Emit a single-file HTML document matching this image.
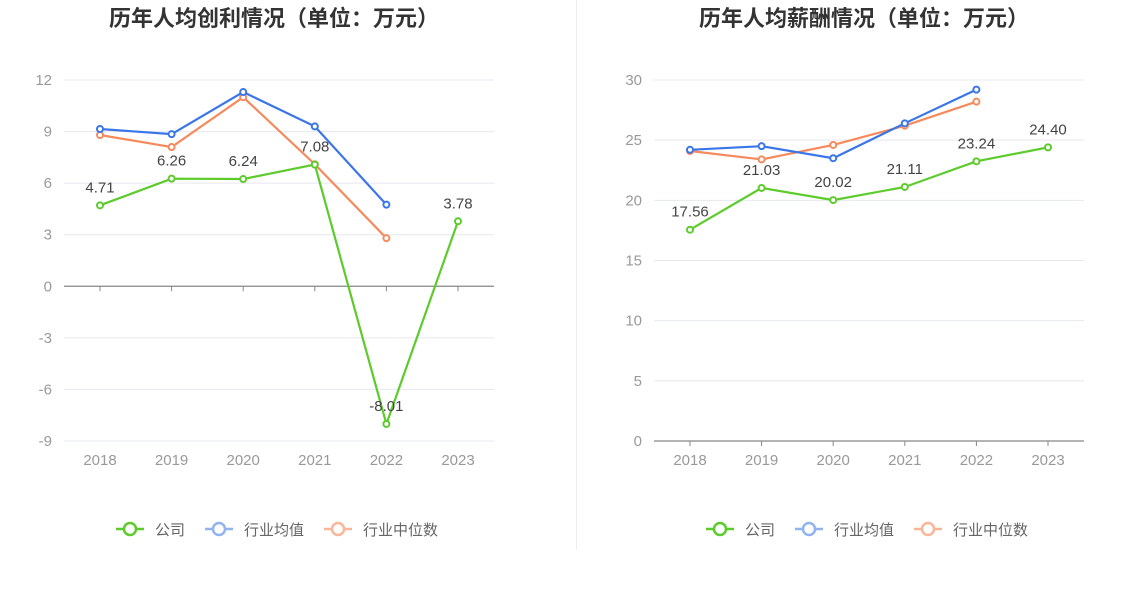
<!DOCTYPE html>
<html><head><meta charset="utf-8">
<style>
html,body{margin:0;padding:0;background:#fff;}
body{width:1148px;height:589px;overflow:hidden;font-family:"Liberation Sans","Noto Sans CJK SC",sans-serif;}
svg text{font-family:"Liberation Sans","Noto Sans CJK SC",sans-serif;}
</style></head>
<body>
<svg id="chart" width="1148" height="589"></svg>
<script>
const years = ["2018","2019","2020","2021","2022","2023"];
const profitCompany = [4.71, 6.26, 6.24, 7.08, -8.01, 3.78];
const profitAvg = [9.15, 8.85, 11.3, 9.3, 4.75];
const profitMedian = [8.8, 8.1, 11.0, 7.1, 2.8];
const profitTicks = [12, 9, 6, 3, 0, -3, -6, -9];
const salaryCompany = [17.56, 21.03, 20.02, 21.11, 23.24, 24.40];
const salaryAvg = [24.2, 24.5, 23.5, 26.4, 29.2];
const salaryMedian = [24.1, 23.4, 24.6, 26.2, 28.2];
const salaryTicks = [30, 25, 20, 15, 10, 5, 0];

const NS = "http://www.w3.org/2000/svg";
const svg = document.getElementById("chart");
const C_GREEN = "#5ccb2b", C_BLUE = "#3a76e8", C_ORANGE = "#f68a5c";

function mk(tag, attrs, parent){
  const e = document.createElementNS(NS, tag);
  for (const k in attrs) e.setAttribute(k, attrs[k]);
  (parent || svg).appendChild(e);
  return e;
}

const div = mk("line",{x1:576.5,y1:0,x2:576.5,y2:550,stroke:"#eeeeee"});



function drawChart(opt){
  const g = mk("g",{});
  
  
  const yMax = opt.ticks[0], yMin = opt.ticks[opt.ticks.length-1];
  const yS = v => opt.yTop + (yMax - v) / (yMax - yMin) * (opt.yBot - opt.yTop);
  const xS = i => opt.x0 + i * opt.step;

  const t = mk("text",{x:opt.titleX,y:26,"text-anchor":"middle","font-size":"22","font-weight":"bold",fill:"#333"},g);
  t.textContent = opt.title;
  
  

  opt.ticks.forEach(v=>{
    const y = yS(v);
    const gl = mk("line",{x1:opt.axisL,x2:opt.axisR,y1:y,y2:y,stroke:"#e6e8f0"},g);
    
    
    const tl = mk("text",{x:opt.axisL-12,y:y+5,"text-anchor":"end","font-size":"15",fill:"#999"},g);
    tl.textContent = v;
    
    
  });
  const y0 = yS(Math.max(yMin, 0));
  const ax = mk("line",{x1:opt.axisL,x2:opt.axisR,y1:y0,y2:y0,stroke:"#888","stroke-width":1.2},g);
  
  
  years.forEach((yr,i)=>{
    const tk = mk("line",{x1:xS(i),x2:xS(i),y1:y0,y2:y0+5,stroke:"#888"},g);
    
    
    const lb = mk("text",{x:xS(i),y:opt.yBot+24,"text-anchor":"middle","font-size":"15",fill:"#999"},g);
    lb.textContent = yr;
    
    
  });

  function series(vals, color, name, labels){
    const pts = vals.map((v,i)=>xS(i)+","+yS(v)).join(" ");
    const pl = mk("polyline",{points:pts,fill:"none",stroke:color,"stroke-width":2.2},g);
    
    
    vals.forEach((v,i)=>{
      const c = mk("circle",{cx:xS(i),cy:yS(v),r:3,fill:"#fff",stroke:color,"stroke-width":2},g);
      
      
      if (labels){
        const lt = mk("text",{x:xS(i),y:yS(v)-13,"text-anchor":"middle","font-size":"15",fill:"#444"},g);
        lt.textContent = v.toFixed(2);
        
        
      }
    });
  }
  series(opt.median, C_ORANGE, "industry-median", false);
  series(opt.avg, C_BLUE, "industry-average", false);
  series(opt.company, C_GREEN, "company", true);

  const items = [["公司","#5ccb2b"],["行业均值","#93b3f0"],["行业中位数","#f9b79a"]];
  let lx = opt.legendX;
  items.forEach(it=>{
    const lg = mk("g",{},g);
    
    
    mk("line",{x1:lx,x2:lx+28,y1:529,y2:529,stroke:it[1],"stroke-width":2.5},lg);
    mk("circle",{cx:lx+14,cy:529,r:6,fill:"#fff",stroke:it[1],"stroke-width":2.5},lg);
    const tx = mk("text",{x:lx+39,y:535,"font-size":"15",fill:"#666"},lg);
    tx.textContent = it[0];
    lx += 39 + it[0].length*15 + 20;
  });
}

drawChart({name:"profit-chart",title:"历年人均创利情况（单位：万元）",titleX:274,
  ticks:profitTicks,yTop:80,yBot:441,x0:100,step:71.6,axisL:64,axisR:494,
  company:profitCompany,avg:profitAvg,median:profitMedian,legendX:116});
drawChart({name:"salary-chart",title:"历年人均薪酬情况（单位：万元）",titleX:864,
  ticks:salaryTicks,yTop:80,yBot:441,x0:690,step:71.6,axisL:654,axisR:1084,
  company:salaryCompany,avg:salaryAvg,median:salaryMedian,legendX:706});
</script>
</body></html>
